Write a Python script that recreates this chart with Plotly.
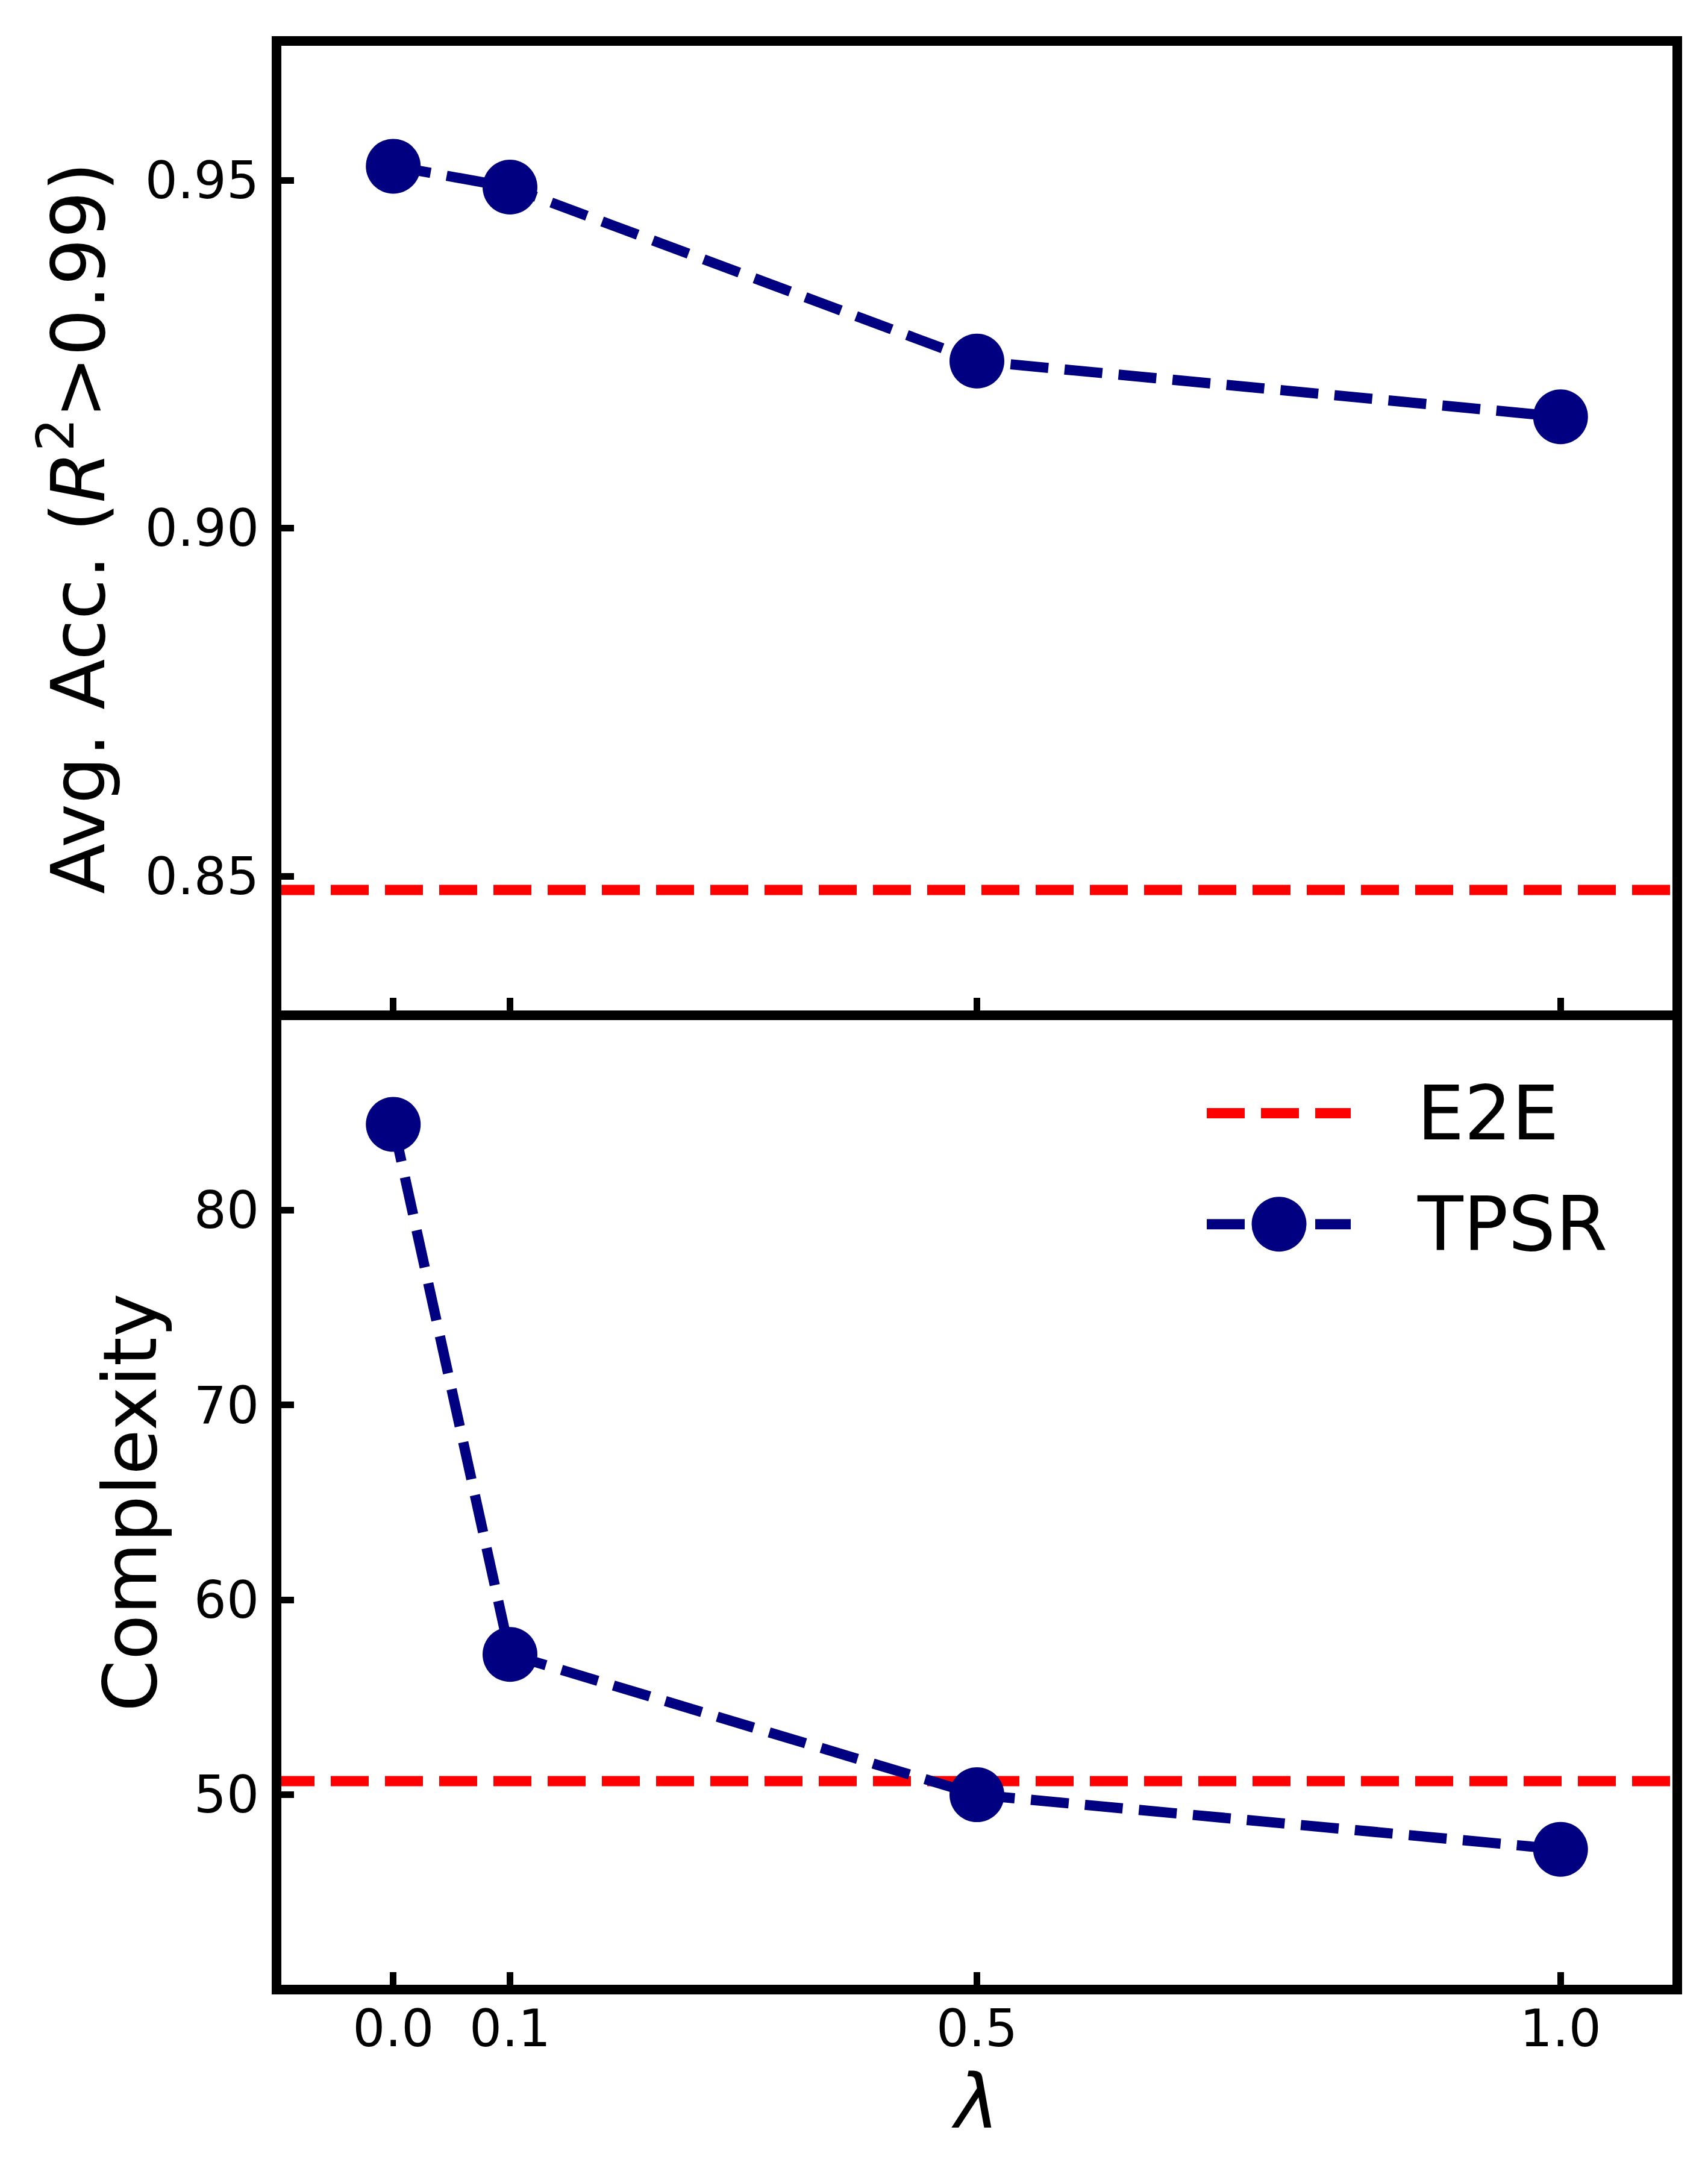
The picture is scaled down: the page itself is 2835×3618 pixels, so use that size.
import plotly.graph_objects as go
from plotly.subplots import make_subplots

# lambda values on the x axis
lam = [0.0, 0.1, 0.5, 1.0]
lam_labels = ["0.0", "0.1", "0.5", "1.0"]

# top panel: average accuracy (R^2 > 0.99)
tpsr_acc = [0.952, 0.949, 0.924, 0.916]
e2e_acc = 0.848

# bottom panel: complexity
tpsr_cplx = [84.4, 57.2, 50.0, 47.2]
e2e_cplx = 50.7

acc_ticks = [0.85, 0.90, 0.95]
acc_ticklabels = ["0.85", "0.90", "0.95"]
cplx_ticks = [50, 60, 70, 80]

RED = "#ff0000"
NAVY = "#000080"
FONT = "DejaVu Sans"
LW = 17
DASH = "63px,27px"

fig = make_subplots(rows=2, cols=1, vertical_spacing=0)

fig.add_trace(go.Scatter(x=lam, y=tpsr_acc, mode="lines+markers", name="TPSR",
                         line=dict(color=NAVY, width=LW, dash=DASH),
                         marker=dict(color=NAVY, size=91), showlegend=False),
              row=1, col=1)
fig.add_trace(go.Scatter(x=lam, y=tpsr_cplx, mode="lines+markers", name="TPSR",
                         line=dict(color=NAVY, width=LW, dash=DASH),
                         marker=dict(color=NAVY, size=91), showlegend=False),
              row=2, col=1)

# E2E baselines (axhline style), under the TPSR curve
fig.add_hline(y=e2e_acc, line=dict(color=RED, width=LW, dash=DASH), layer="below",
              row=1, col=1)
fig.add_hline(y=e2e_cplx, line=dict(color=RED, width=LW, dash=DASH), layer="below",
              row=2, col=1)

tick_common = dict(ticks="inside", ticklen=29, tickwidth=11, tickcolor="black",
                   showgrid=False, zeroline=False, showline=False,
                   tickfont=dict(family=FONT, size=85, color="black"))

fig.update_xaxes(range=[-0.1, 1.1], tickvals=lam, ticktext=lam_labels, **tick_common)
fig.update_xaxes(showticklabels=False, row=1, col=1)
fig.update_xaxes(ticklabelstandoff=8,
                 title=dict(text="<i>λ</i>", font=dict(family=FONT, size=124, color="black"),
                            standoff=26),
                 row=2, col=1)

fig.update_yaxes(range=[0.83, 0.97], tickvals=acc_ticks, ticktext=acc_ticklabels,
                 ticklabelstandoff=28,
                 title=dict(text="Avg. Acc. (<i>R</i><sup>2</sup>&gt;0.99)",
                            font=dict(family=FONT, size=123, color="black"), standoff=25),
                 row=1, col=1, **tick_common)
fig.update_yaxes(range=[40, 90], tickvals=cplx_ticks, ticklabelstandoff=28,
                 title=dict(text="Complexity",
                            font=dict(family=FONT, size=123, color="black"), standoff=20),
                 row=2, col=1, **tick_common)

# panel frames (spines)
for ax in ["", "2"]:
    fig.add_shape(type="rect", xref=f"x{ax} domain", yref=f"y{ax} domain",
                  x0=0, x1=1, y0=0, y1=1, line=dict(color="black", width=16),
                  layer="above")

# legend drawn inside the bottom panel
lx0, lx1, lxm, ltx = 0.6641, 0.7669, 0.7157, 0.8135
row_y = {"E2E": 0.8995, "TPSR": 0.7856}
fig.add_shape(type="line", xref="x2 domain", yref="y2 domain",
              x0=lx0, x1=lx1, y0=row_y["E2E"], y1=row_y["E2E"],
              line=dict(color=RED, width=LW, dash=DASH))
fig.add_shape(type="line", xref="x2 domain", yref="y2 domain",
              x0=lx0, x1=lx1, y0=row_y["TPSR"], y1=row_y["TPSR"],
              line=dict(color=NAVY, width=LW, dash=DASH))
fig.add_shape(type="circle", xref="x2 domain", yref="y2 domain",
              xsizemode="pixel", ysizemode="pixel", xanchor=lxm, yanchor=row_y["TPSR"],
              x0=-45.5, x1=45.5, y0=-45.5, y1=45.5,
              fillcolor=NAVY, line=dict(width=0))
for name, yy in row_y.items():
    fig.add_annotation(text=name, xref="x2 domain", yref="y2 domain", x=ltx, y=yy,
                       xanchor="left", yanchor="middle", showarrow=False,
                       font=dict(family=FONT, size=124, color="black"))

fig.update_layout(width=2835, height=3618, autosize=False,
                  margin=dict(l=451, r=59, t=60, b=324),
                  plot_bgcolor="white", paper_bgcolor="white",
                  showlegend=False, font=dict(family=FONT))

fig.write_html("out.html")
